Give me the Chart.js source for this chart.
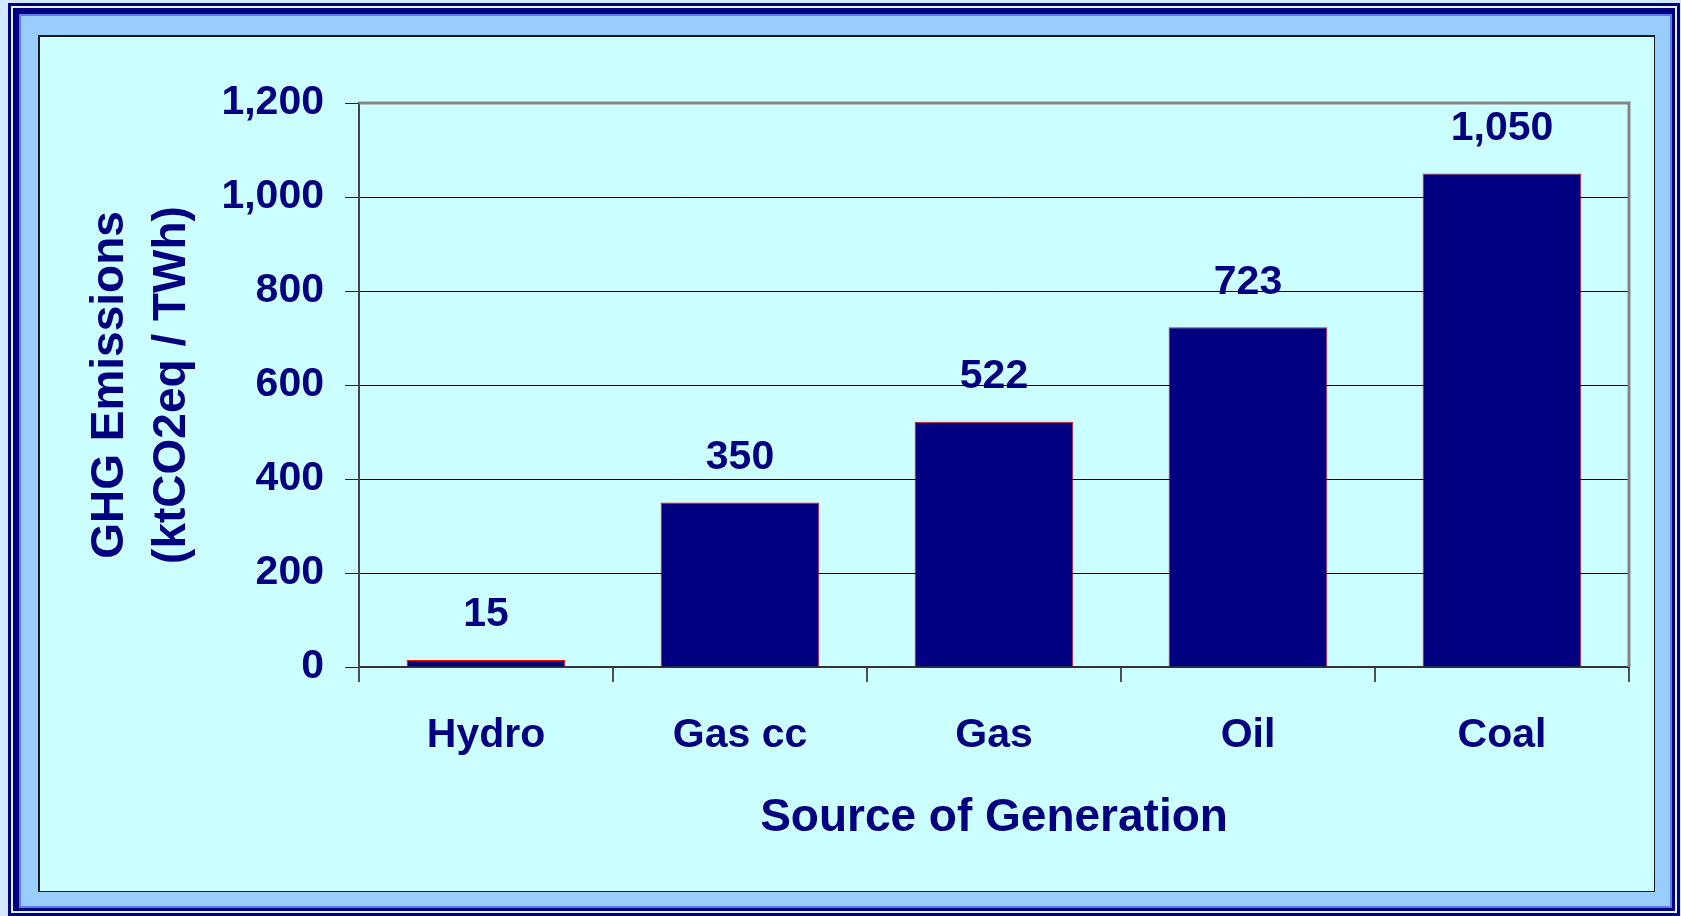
<!DOCTYPE html>
<html>
<head>
<meta charset="utf-8">
<script src="https://cdn.jsdelivr.net/npm/chart.js@4/dist/chart.umd.min.js"></script>
<style>
  html, body { margin: 0; padding: 0; }
  body { width: 1681px; height: 916px; background: #d2e8ff; position: relative; overflow: hidden; }
  .frame1 { position: absolute; left: 8px; top: 3px; right: 1px; bottom: 0; border: 3px solid #000080; background: #e4f1ff; padding: 2px; box-sizing: border-box; }
  .frame2 { width: 100%; height: 100%; box-sizing: border-box; border-style: solid; border-color: #000080; border-width: 6px 3px 3px 6px; }
  .frame3 { width: 100%; height: 100%; box-sizing: border-box; border: 2px solid #5b7cf0; background: #99ccff; }
  .box { position: absolute; left: 38px; top: 35px; width: 1617px; height: 857px; box-sizing: border-box; border: 2px solid #1c1c1c; border-width: 2px 1px 1px 2px; background: #ccffff; }
  canvas { display: block; }
</style>
</head>
<body>
<div class="frame1"><div class="frame2"><div class="frame3"></div></div></div>
<div class="box"><canvas id="grafico" width="1614" height="854"></canvas></div>
<script>
// datos del grafico
var fuentes = ["Hydro", "Gas cc", "Gas", "Oil", "Coal"];
var emisiones = [15, 350, 522, 723, 1050];
var tituloY = ["GHG Emissions", "(ktCO2eq / TWh)"];
var tituloX = "Source of Generation";

var azul = "#000080";
var letra = "'Liberation Sans', Arial, sans-serif";

function formato(v) {
    return v.toString().replace(/\B(?=(\d{3})+(?!\d))/g, ",");
}

// borde gris arriba y a la derecha del area del grafico
var bordeGris = {
    id: "bordeGris",
    beforeDatasetsDraw: function(chart) {
        var ctx = chart.ctx, a = chart.chartArea;
        ctx.save();
        ctx.strokeStyle = "#858585";
        ctx.lineWidth = 3;
        ctx.beginPath();
        ctx.moveTo(a.left, a.top);
        ctx.lineTo(a.right, a.top);
        ctx.lineTo(a.right, a.bottom);
        ctx.stroke();
        ctx.restore();
    }
};

// numeros encima de las barras
var etiquetas = {
    id: "etiquetas",
    afterDatasetsDraw: function(chart) {
        var ctx = chart.ctx;
        var meta = chart.getDatasetMeta(0);
        ctx.save();
        ctx.fillStyle = azul;
        ctx.font = "bold 41px " + letra;
        ctx.textAlign = "center";
        ctx.textBaseline = "middle";
        meta.data.forEach(function(bar, i) {
            ctx.fillText(formato(emisiones[i]), bar.x, bar.y - 45);
        });
        ctx.restore();
    }
};

var ctx = document.getElementById("grafico").getContext("2d");
var miGrafico = new Chart(ctx, {
    type: "bar",
    data: {
        labels: fuentes,
        datasets: [{
            data: emisiones,
            backgroundColor: azul,
            borderColor: "#ff0000",
            borderWidth: 1,
            barPercentage: 0.625,
            categoryPercentage: 1
        }]
    },
    options: {
        responsive: false,
        animation: false,
        devicePixelRatio: 1,
        layout: { padding: { left: 0, top: 66, right: 25, bottom: 0 } },
        plugins: {
            legend: { display: false },
            tooltip: { enabled: false }
        },
        scales: {
            x: {
                grid: {
                    offset: true,
                    drawOnChartArea: false,
                    tickLength: 15,
                    color: "#505050",
                    lineWidth: 2
                },
                border: { color: "#333", width: 2 },
                ticks: {
                    color: azul,
                    padding: 29,
                    font: { family: letra, size: 41, weight: "bold" }
                },
                title: {
                    display: true,
                    text: tituloX,
                    color: azul,
                    padding: { top: 0, bottom: 45 },
                    font: { family: letra, size: 46, weight: "bold" }
                },
                afterFit: function(scale) { scale.height = 224; }
            },
            y: {
                min: 0,
                max: 1200,
                grid: {
                    color: function(c) { return c.tick && c.tick.value === 1200 ? "rgba(0,0,0,0)" : "#000"; },
                    tickColor: "#222",
                    tickLength: 14,
                    lineWidth: 1
                },
                border: { color: "#444", width: 2 },
                ticks: {
                    stepSize: 200,
                    color: azul,
                    padding: 21,
                    font: { family: letra, size: 41, weight: "bold" },
                    callback: function(v) { return formato(v); }
                },
                title: {
                    display: true,
                    text: tituloY,
                    color: azul,
                    padding: { top: 39, bottom: 0 },
                    font: { family: letra, size: 46, weight: "bold", lineHeight: 1.35 }
                },
                afterFit: function(scale) { scale.width = 319; }
            }
        }
    },
    plugins: [bordeGris, etiquetas]
});
</script>
</body>
</html>
